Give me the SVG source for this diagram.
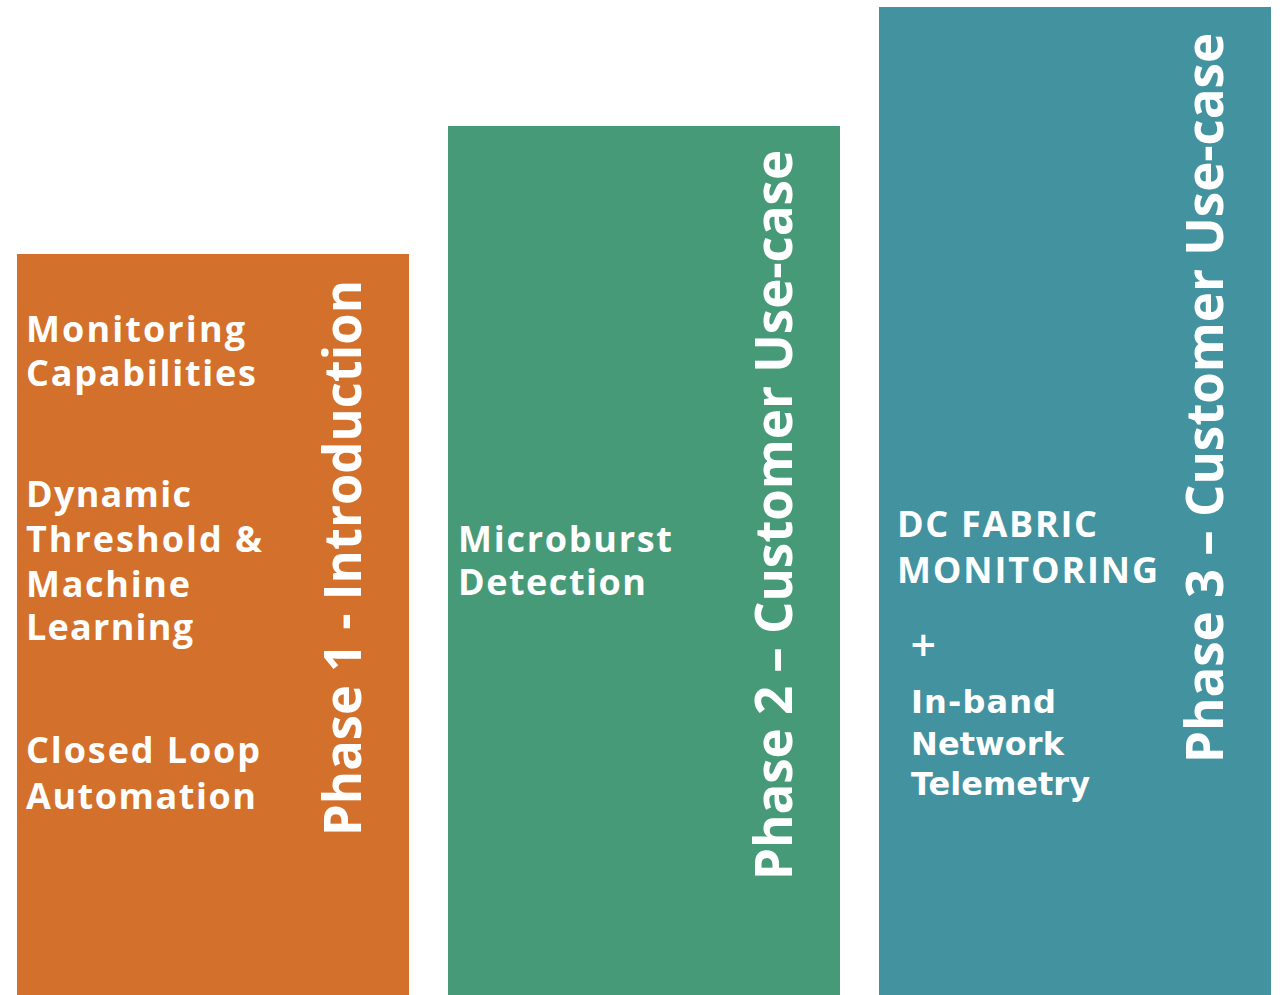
<svg xmlns="http://www.w3.org/2000/svg" width="1286" height="995" viewBox="0 0 1286 995">
<style>
.lbl{font-family:"Open Sans","Liberation Sans",sans-serif;font-weight:bold;fill:#fff;font-size:36px;letter-spacing:1px}
.vt{font-family:"Open Sans","Liberation Sans",sans-serif;font-weight:bold;fill:#fff;font-size:52px}
.vd{font-family:"DejaVu Sans","Verdana",sans-serif;font-weight:bold;fill:#fff;font-size:32px}
</style>
<rect width="1286" height="995" fill="#fff"/>
<g id="phase1">
<rect x="17" y="254" width="392" height="741" fill="#D3702B"/>
<text class="lbl" x="26" y="342" textLength="220">Monitoring</text>
<text class="lbl" x="26" y="386" textLength="231">Capabilities</text>
<text class="lbl" x="26" y="507" textLength="166">Dynamic</text>
<text class="lbl" x="26" y="552" textLength="237">Threshold &amp;</text>
<text class="lbl" x="26" y="597" textLength="165">Machine</text>
<text class="lbl" x="26" y="640" textLength="168">Learning</text>
<text class="lbl" x="26" y="763" textLength="235">Closed Loop</text>
<text class="lbl" x="26" y="809" textLength="231">Automation</text>
<text class="vt" transform="translate(361,836) rotate(-90)" textLength="556" lengthAdjust="spacingAndGlyphs">Phase 1 - Introduction</text>
</g>
<g id="phase2">
<rect x="448" y="126" width="392" height="869" fill="#479A78"/>
<text class="lbl" x="458" y="552" textLength="215">Microburst</text>
<text class="lbl" x="458" y="595" textLength="189">Detection</text>
<text class="vt" transform="translate(792,880) rotate(-90)" textLength="730" lengthAdjust="spacingAndGlyphs">Phase 2 – Customer Use-case</text>
</g>
<g id="phase3">
<rect x="879" y="7" width="392" height="988" fill="#4292A0"/>
<text class="lbl" x="897" y="537" textLength="201">DC FABRIC</text>
<text class="lbl" x="897" y="583" textLength="262">MONITORING</text>
<text class="vd" x="909" y="656" style="font-size:34px">+</text>
<text class="vd" x="911" y="713" textLength="145">In-band</text>
<text class="vd" x="911" y="755" textLength="153">Network</text>
<text class="vd" x="911" y="795" textLength="179">Telemetry</text>
<text class="vt" transform="translate(1223,763) rotate(-90)" textLength="730" lengthAdjust="spacingAndGlyphs">Phase 3 – Customer Use-case</text>
</g>
<g id="connectors"/>
</svg>
